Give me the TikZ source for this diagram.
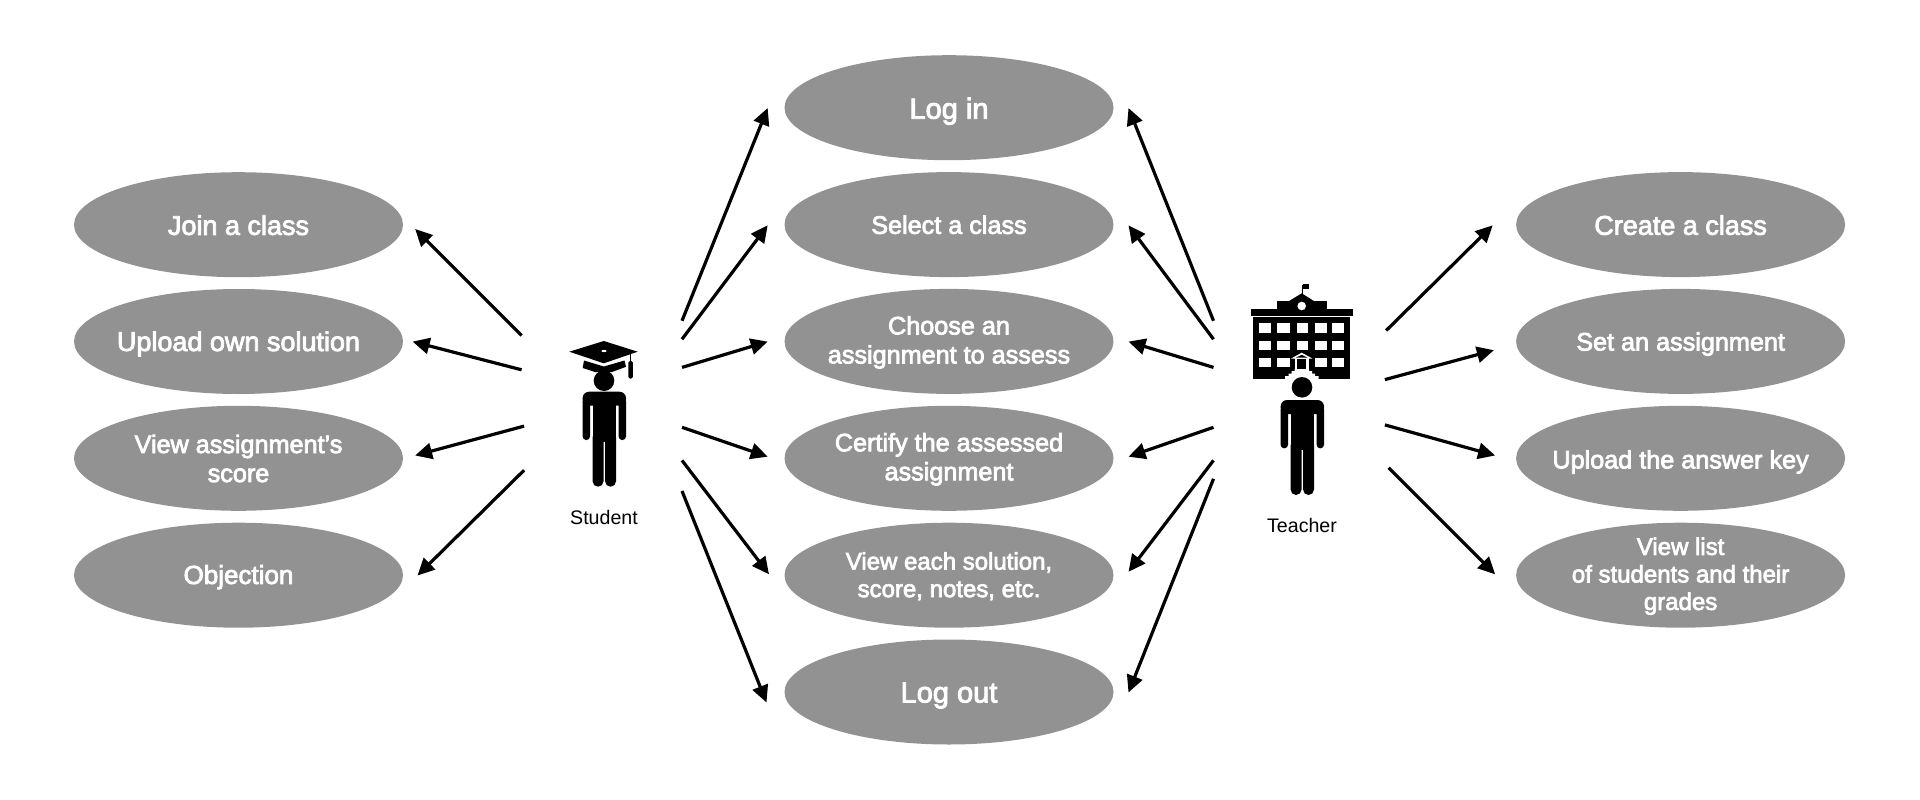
\documentclass[tikz,border=0pt]{standalone}
\usepackage{fontspec}
\setmainfont{Liberation Sans}
\newfontfamily\medfont[FakeBold=3]{Liberation Sans}
\usetikzlibrary{arrows.meta,shapes.geometric}
\definecolor{ovalgrey}{HTML}{929292}
\tikzset{
  usecase/.style={ellipse,fill=ovalgrey,minimum width=329pt,minimum height=105pt,inner sep=0pt},
  casetext/.style={text=white,align=center,inner sep=0pt,yshift=-1pt,font=\medfont\fontsize{25.2}{29}\selectfont},
  casesmall/.style={casetext,font=\medfont\fontsize{24}{27.5}\selectfont},
  casebig/.style={casetext,yshift=-1.5pt,font=\medfont\fontsize{27}{30}\selectfont},
  casemid/.style={casetext,yshift=-1pt,font=\medfont\fontsize{26}{30}\selectfont},
  casehuge/.style={casetext,yshift=-2.5pt,font=\medfont\fontsize{29}{32}\selectfont},
  arrowline/.style={line width=3.2pt,-{Triangle[length=17pt,width=16pt]},black},
  actorlabel/.style={font=\fontsize{19.6}{22}\selectfont,text=black,inner sep=0pt},
  pics/personfig/.style={code={
    \fill[black,rounded corners=6.5pt] (-21.7,14) -- (-21.7,0) -- (21.7,0) -- (21.7,14) -- cycle;
    \fill[black] (-11.7,0) rectangle (11.7,50);
    \fill[black,rounded corners=3.5pt] (-21.7,6) rectangle (-14.3,48.3);
    \fill[black,rounded corners=3.5pt] (14.3,6) rectangle (21.7,48.3);
    \fill[black,rounded corners=5.4pt] (-11.7,40) rectangle (-0.8,95);
    \fill[black,rounded corners=5.4pt] (0.8,40) rectangle (11.7,95);
  }}
}
\begin{document}
\begin{tikzpicture}[x=1pt,y=-1pt]
\useasboundingbox (0,0) rectangle (1920,800);
% left column
\node[usecase,label={[casebig,yshift=2pt]center:Join a class}] (join) at (238.5,224.7) {};
\node[usecase,label={[casebig]center:Upload own solution}] (upload) at (238.5,341.5) {};
\node[usecase,label={[casetext,yshift=0.8pt]center:View assignment’s\\score}] (viewscore) at (238.5,458.3) {};
\node[usecase,label={[casemid]center:Objection}] (objection) at (238.5,575.2) {};
% middle column
\node[usecase,label={[casehuge]center:Log in}] (login) at (949,107.7) {};
\node[usecase,label={[casetext,yshift=0.8pt]center:Select a class}] (select) at (949,224.6) {};
\node[usecase,label={[casetext]center:Choose an\\assignment to assess}] (choose) at (949,341.4) {};
\node[usecase,label={[casetext]center:Certify the assessed\\assignment}] (certify) at (949,458.3) {};
\node[usecase,label={[casesmall]center:View each solution,\\score, notes, etc.}] (viewsol) at (949,575.2) {};
\node[usecase,label={[casehuge]center:Log out}] (logout) at (949,692) {};
% right column
\node[usecase,label={[casebig,yshift=2pt]center:Create a class}] (create) at (1680.6,224.6) {};
\node[usecase,label={[casetext,yshift=-1.6pt]center:Set an assignment}] (setas) at (1680.6,341.4) {};
\node[usecase,label={[casetext,yshift=-2.6pt]center:Upload the answer key}] (key) at (1680.6,458.3) {};
\node[usecase,label={[casesmall]center:View list\\of students and their\\grades}] (list) at (1680.6,575.2) {};
% student
\pic at (604.3,391.7) {personfig};
\fill[black] (604,380.7) circle (10.3);
\fill[black] (569.3,351.7) -- (603.8,341) -- (637.7,351.7) -- (603.8,363.3) -- cycle;
\fill[white] (604,351) ellipse (2.5 and 1.1);
\fill[black] (584,360.5) -- (603.8,366.5) -- (624.5,360.5) -- (626,366.8) -- (612,372) -- (595,372) -- (582.7,368) -- cycle;
\draw[black,line width=1pt] (630.5,354) -- (630.5,366);
\fill[black,rounded corners=1.5pt] (628.3,361) rectangle (632.8,378.5);
\node[actorlabel] (studentlabel) at (604,517) {Student};
% teacher: building
\fill[black] (1251,308.5) rectangle (1353.4,315.5);
\fill[black] (1276.7,301) rectangle (1326.7,309);
\fill[black] (1288.3,301.5) -- (1301.7,293.3) -- (1314.7,301.5) -- cycle;
\fill[white] (1301.7,306) circle (4.3);
\draw[black,line width=1.2pt] (1302.7,294) -- (1302.7,285);
\fill[black] (1302.5,284) rectangle (1309,288.5);
\fill[black] (1253.3,317.3) rectangle (1350,378.8);
\foreach \yy/\hh in {323.3/10,341.3/8.7}{
  \foreach \xx/\ww in {1259.3/11.5,1277.3/13,1296.7/11.5,1314.7/12,1332.3/11.7}{
    \fill[white] (\xx,\yy) rectangle ++(\ww,\hh);
  }
}
\foreach \xx/\ww in {1259.3/11.5,1277.3/13,1314.7/12,1332.3/11.7}{
  \fill[white] (\xx,357.7) rectangle ++(\ww,9.5);
}
% entrance: white chevron and columns, black door, white stairs
\fill[white] (1301.7,352.7) -- (1312.5,358.6) -- (1291,358.6) -- cycle;
\fill[black] (1301.7,354.8) -- (1307.5,357.6) -- (1296,357.6) -- cycle;
\fill[white] (1294.5,358) rectangle (1309,370);
\fill[black] (1297.3,358.6) rectangle (1306.2,369);
\fill[white] (1294.5,369) -- (1309,369) -- (1309,371) -- (1312,371) -- (1312,373.5) -- (1315,373.5) -- (1315,376) -- (1318.5,376) -- (1318.5,379.5) -- (1285,379.5) -- (1285,376) -- (1288.5,376) -- (1288.5,373.5) -- (1291.5,373.5) -- (1291.5,371) -- (1294.5,371) -- cycle;
\fill[white] (1302,387.3) circle (14);
\fill[black] (1302,387.3) circle (10.3);
\node[actorlabel] (teacherlabel) at (1302,525) {Teacher};
\pic at (1302.3,400) {personfig};
% arrow ends, free
\foreach \n/\x/\y in {
 a1/521.6/335.5, a2/521.6/369.8, a3/524.1/426.1, a4/524.1/470.2,
 b1/682/320.8, b2/682/339.2, b3/682/367.4, b4/682/427.3, b5/682/460.4, b6/682/491,
 c1/1213.5/320.8, c2/1213.5/339.2, c3/1213.5/367.4, c4/1213.5/427.3, c5/1213.5/460.4, c6/1213.5/478.8,
 d1/1386.1/330.6, d2/1384.9/379.6, d3/1384.9/424.9, d4/1388.6/467.8,
 e1/415.1/229, e2/412.6/341.6, e3/415.1/455.5, e4/417.5/575.5,
 f1/767.7/108, f2/767.7/225.3, f3/767.7/341.6, f4/767.7/456.7, f5/769/574.3, f6/766.5/702.5,
 g1/1128.5/108, g2/1128.5/225.3, g3/1128.5/341.6, g4/1128.5/456.7, g5/1128.5/571.8, g6/1128.5/692.5,
 h1/1492.7/225.3, h2/1493.9/350.2, h3/1495.1/455.5, h4/1495.1/574.3}{
  \coordinate (\n) at (\x,\y);
}
\foreach \s/\t in {a1/e1,a2/e2,a3/e3,a4/e4,b1/f1,b2/f2,b3/f3,b4/f4,b5/f5,b6/f6,c1/g1,c2/g2,c3/g3,c4/g4,c5/g5,c6/g6,d1/h1,d2/h2,d3/h3,d4/h4}{
  \draw[arrowline] (\s) -- (\t);
}
\end{tikzpicture}
\end{document}
